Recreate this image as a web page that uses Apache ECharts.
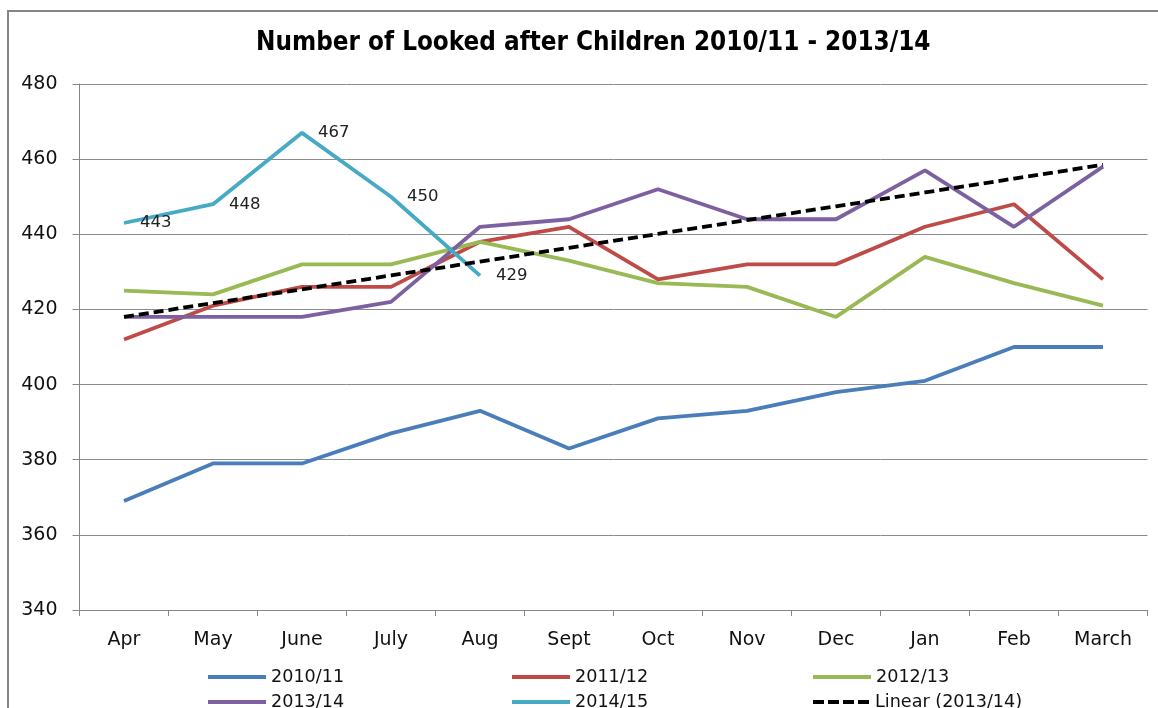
<!DOCTYPE html>
<html>
<head>
<meta charset="utf-8">
<script src="https://cdn.jsdelivr.net/npm/echarts@6/dist/echarts.min.js"></script>
<style>
html,body{margin:0;padding:0;background:#fff;}
#chart{width:1158px;height:708px;}
</style>
</head>
<body>
<div id="chart"></div>
<script>
var months = ['Apr','May','June','July','Aug','Sept','Oct','Nov','Dec','Jan','Feb','March'];
var s2010 = [369,379,379,387,393,383,391,393,398,401,410,410];
var s2011 = [412,421,426,426,438,442,428,432,432,442,448,428];
var s2012 = [425,424,432,432,438,433,427,426,418,434,427,421];
var s2013 = [418,418,418,422,442,444,452,444,444,457,442,458];
var s2014 = [443,448,467,450,429];
var yTicks = [340,360,380,400,420,440,460,480];

// Linear trend line (least squares) of 2013/14
var n = s2013.length, sx=0, sy=0, sxy=0, sxx=0;
for (var i=0;i<n;i++){ sx+=i; sy+=s2013[i]; sxy+=i*s2013[i]; sxx+=i*i; }
var slope = (n*sxy - sx*sy)/(n*sxx - sx*sx);
var icpt = (sy - slope*sx)/n;
var trend = s2013.map(function(_,i){ return +(icpt + slope*i).toFixed(3); });

var font = 'DejaVu Sans';
var solidIcon = 'path://M0,0h58v4h-58z';
var dashIcon = 'path://M0,0h11v4h-11z M15,0h11v4h-11z M30,0h11v4h-11z M45,0h11v4h-11z';
var chart = echarts.init(document.getElementById('chart'));

function lg(name, left, top, icon){
  return {
    data:[{name:name, icon:icon}], left:left, top:top, orient:'horizontal',
    itemWidth:58, itemHeight:4, itemGap:5,
    textStyle:{fontFamily:font, fontSize:17.6, color:'#111'},
    selectedMode:false
  };
}

chart.setOption({
  animation:false,
  backgroundColor:'#fff',
  title:{
    text:'Number of Looked after Children 2010/11 - 2013/14',
    left:251, top:25,
    textStyle:{fontFamily:'DejaVu Sans Condensed', fontWeight:'bold', fontSize:25.8, color:'#000'}
  },
  graphic:[{
    type:'rect', shape:{x:8,y:11,width:1170,height:720},
    style:{fill:'none', stroke:'#868686', lineWidth:2}, silent:true
  }],
  legend:[
    lg('2010/11',203,663,solidIcon), lg('2011/12',507,663,solidIcon), lg('2012/13',808,663,solidIcon),
    lg('2013/14',203,688,solidIcon), lg('2014/15',507,688,solidIcon), lg('Linear (2013/14)',808,688,dashIcon)
  ],
  grid:{left:79.5, right:10.5, top:84, bottom:98},
  xAxis:{
    type:'category', data:months, boundaryGap:true,
    axisLine:{lineStyle:{color:'#868686', width:1}},
    axisTick:{show:true, length:6, lineStyle:{color:'#868686'}},
    axisLabel:{fontFamily:font, fontSize:19, color:'#111', margin:21}
  },
  yAxis:{
    type:'value', min:yTicks[0], max:yTicks[yTicks.length-1], interval:20,
    axisLine:{show:true, lineStyle:{color:'#868686', width:1}},
    axisTick:{show:true, length:7, lineStyle:{color:'#868686'}},
    axisLabel:{fontFamily:font, fontSize:19, color:'#111', margin:22},
    splitLine:{lineStyle:{color:'#8c8c8c', width:1}}
  },
  series:[
    {name:'2010/11', type:'line', data:s2010, symbol:'none', color:'#4a7ebb', lineStyle:{width:3.8, color:'#4a7ebb'}},
    {name:'2011/12', type:'line', data:s2011, symbol:'none', color:'#be4b48', lineStyle:{width:3.8, color:'#be4b48'}},
    {name:'2012/13', type:'line', data:s2012, symbol:'none', color:'#98b954', lineStyle:{width:3.8, color:'#98b954'}},
    {name:'2013/14', type:'line', data:s2013, symbol:'none', color:'#7d60a0', lineStyle:{width:3.8, color:'#7d60a0'}},
    {name:'2014/15', type:'line', data:s2014, symbol:'circle', symbolSize:0.1, color:'#46aac5', lineStyle:{width:3.8, color:'#46aac5'},
      label:{show:true, position:'right', distance:16, fontFamily:font, fontSize:16.5, color:'#222'}},
    {name:'Linear (2013/14)', type:'line', data:trend, symbol:'none', color:'#000', z:5,
      lineStyle:{width:3.8, color:'#000', type:[10,5]}}
  ]
});
</script>
</body>
</html>
